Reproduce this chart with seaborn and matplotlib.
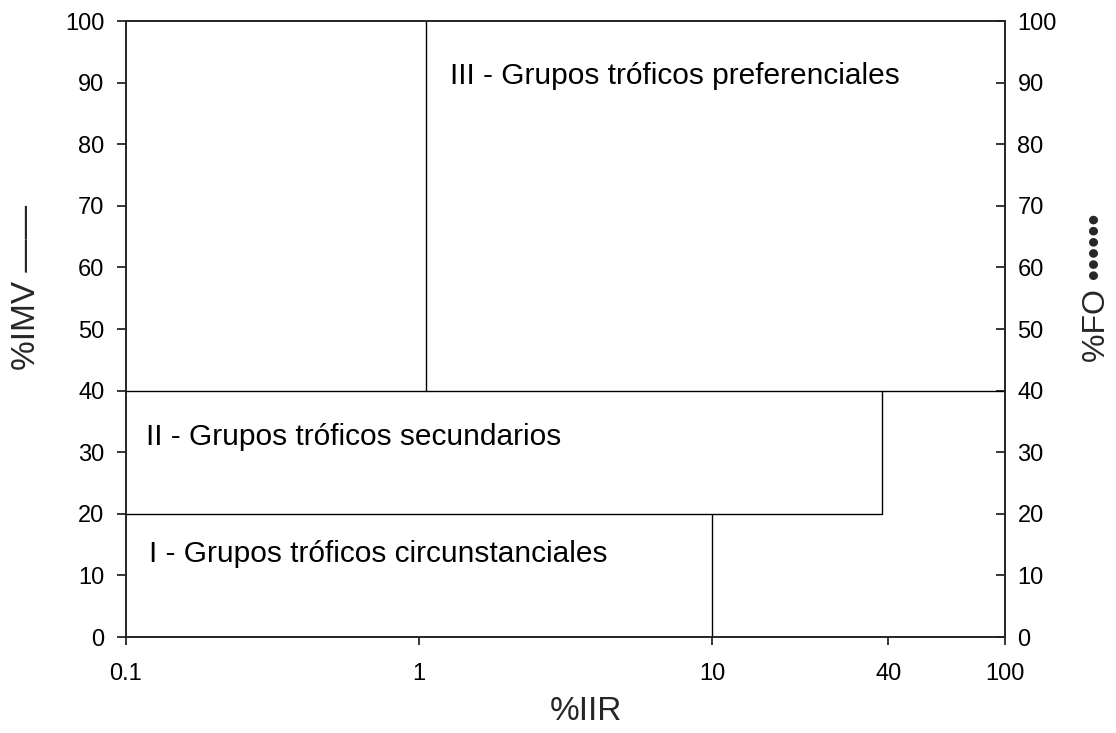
import matplotlib
matplotlib.use("Agg")
import matplotlib.pyplot as plt
import matplotlib.ticker as mticker
import numpy as np
import pandas as pd
import seaborn as sns

# Boundaries between the trophic-group regions (x = %IIR, y = %IMV / %FO)
segment_id = ["h40", "h40", "h20", "h20", "v1", "v1", "v38", "v38", "v10", "v10"]
segment_x = [0.1, 100, 0.1, 38, 1.06, 1.06, 38, 38, 10, 10]
segment_y = [40, 40, 20, 20, 40, 100, 20, 40, 0, 20]

x_ticks = [0.1, 1, 10, 40, 100]
x_tick_labels = ["0.1", "1", "10", "40", "100"]
y_ticks = list(range(0, 101, 10))

region_labels = [
    "III - Grupos tróficos preferenciales",
    "II - Grupos tróficos secundarios",
    "I - Grupos tróficos circunstanciales",
]
region_x = [1.28, 0.117, 0.120]
region_y = [91, 32.5, 13.5]

sns.set_style("ticks")
plt.rcParams["font.family"] = ["Liberation Sans", "DejaVu Sans"]

fig = plt.figure(figsize=(11.16, 7.33), dpi=100)
ax = fig.add_axes([126 / 1116, 96 / 733, 879 / 1116, 616 / 733])

df = pd.DataFrame({"seg": segment_id, "x": segment_x, "y": segment_y})
sns.lineplot(data=df, x="x", y="y", units="seg", estimator=None, sort=False,
             color="black", linewidth=1.0, ax=ax, legend=False)

ax.set_xscale("log")
ax.set_xlim(0.1, 100)
ax.set_ylim(0, 100)
ax.xaxis.set_major_locator(mticker.FixedLocator(x_ticks))
ax.xaxis.set_major_formatter(mticker.FixedFormatter(x_tick_labels))
ax.xaxis.set_minor_locator(mticker.NullLocator())
ax.set_yticks(y_ticks)

for s in ax.spines.values():
    s.set_visible(True)
    s.set_linewidth(1.1)
    s.set_color("black")

ax.tick_params(axis="y", direction="out", length=6.5, width=1.1,
               labelsize=17, colors="black", pad=9)
ax.tick_params(axis="x", direction="out", length=6, width=1.1,
               labelsize=17, colors="black", pad=13)

ax.set_xlabel("%IIR", fontsize=24)
ax.xaxis.set_label_coords(0.523, -0.095)
ax.set_ylabel("%IMV ——", fontsize=24)
ax.yaxis.set_label_coords(-0.096, 0.567)

ax2 = ax.twinx()
ax2.set_ylim(0, 100)
ax2.set_yticks(y_ticks)
ax2.tick_params(axis="y", direction="in", length=6.5, width=1.1,
                labelsize=17, colors="black", pad=9)
for s in ax2.spines.values():
    s.set_linewidth(1.1)
ax2.set_ylabel("%FO ••••••", fontsize=23)
ax2.yaxis.set_label_coords(1.088, 0.567)

for label, lx, ly in zip(region_labels, region_x, region_y):
    ax.text(lx, ly, label, fontsize=21.5, color="black", va="center", ha="left")

fig.savefig("out.png", dpi=100)
